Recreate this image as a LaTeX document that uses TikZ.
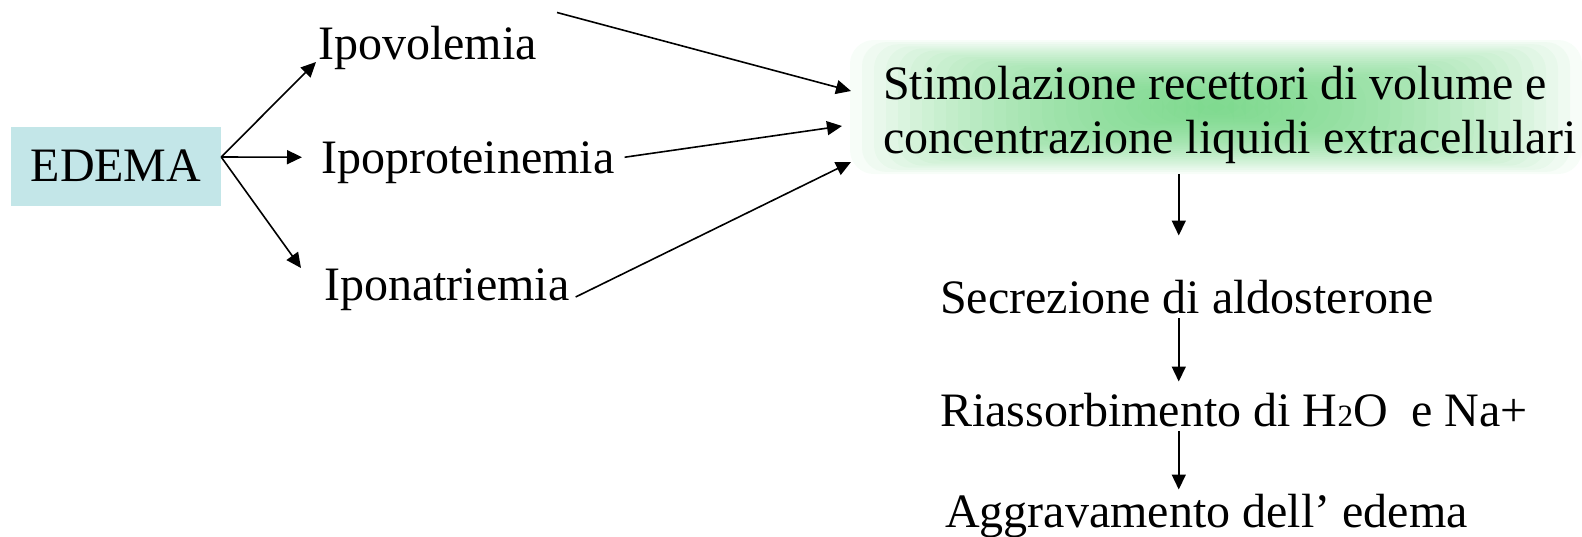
\documentclass[tikz,border=0pt]{standalone}
\usepackage{fontspec}
\setmainfont{Liberation Serif}
\usepackage{xcolor}
\usepackage{tikz}
\usetikzlibrary{positioning,arrows.meta}
\definecolor{edemablue}{RGB}{195,230,232}
\definecolor{glowgreen}{RGB}{95,208,115}
\tikzset{every node/.style={font=\fontsize{48}{54}\selectfont}}

\begin{document}
\begin{tikzpicture}[
    x=1pt, y=-1pt,
    >={Triangle[length=15pt,width=14pt]},
    box/.style={rectangle, fill=edemablue, minimum width=210pt, minimum height=79pt, inner sep=0pt},
    lbl/.style={inner sep=0pt},
    arr/.style={->, line width=1.6pt}
]
\useasboundingbox (0,0) rectangle (1582,536);

\foreach \i in {0,...,29}
  \fill[glowgreen, opacity=0.05, rounded corners=24pt]
    ({850+12*\i},{40+2.1*\i}) rectangle ({1582-12*\i},{174-2.1*\i});

\node (edema) [box] at (116,166) {EDEMA};

\node (ipovol) [lbl, anchor=base west] at (318,59) {Ipovolemia};
\node (iprot) [lbl, anchor=base west] at (321,173) {Ipoproteinemia};
\node (ipona) [lbl, anchor=base west] at (324,300) {Iponatriemia};

\node (stim) [lbl, anchor=west, align=left] at (883,115)
  {Stimolazione recettori di volume e\\concentrazione liquidi extracellulari};

\node (secr) [lbl, anchor=base west] at (940,313) {Secrezione di aldosterone};
\node (riass) [lbl, anchor=base west] at (940,426)
  {Riassorbimento di H{\fontsize{31}{31}\selectfont 2}O\ \ e Na+};
\node (aggr) [lbl, anchor=base west] at (945,527) {Aggravamento dell’ edema};

\draw[arr] ([yshift=9pt]edema.east) -- ([shift={(-2pt,-3pt)}]ipovol.base west);
\draw[arr] ([yshift=9pt]edema.east) -- ([shift={(-19pt,5pt)}]iprot.west);
\draw[arr] ([yshift=9pt]edema.east) -- ([xshift=-23pt]ipona.north west);

\draw[arr] ([shift={(20pt,13pt)}]ipovol.north east) -- ([shift={(-32pt,24pt)}]stim.west);
\draw[arr] ([shift={(10pt,5pt)}]iprot.east) -- ([shift={(-41pt,-11pt)}]stim.west);
\draw[arr] ([shift={(6pt,3pt)}]ipona.base east) -- ([shift={(-32pt,-47pt)}]stim.west);

\draw[arr] ([shift={(-8pt,-10pt)}]secr.north |- stim.south) -- ([shift={(-8pt,44pt)}]secr.north);
\draw[arr] ([shift={(-8pt,-5pt)}]secr.base) -- ([shift={(-8pt,11pt)}]secr.north |- riass.north);
\draw[arr] ([shift={(-8pt,-5pt)}]secr.base |- riass.base) -- ([shift={(-8pt,4pt)}]secr.north |- aggr.north);

\end{tikzpicture}
\end{document}
